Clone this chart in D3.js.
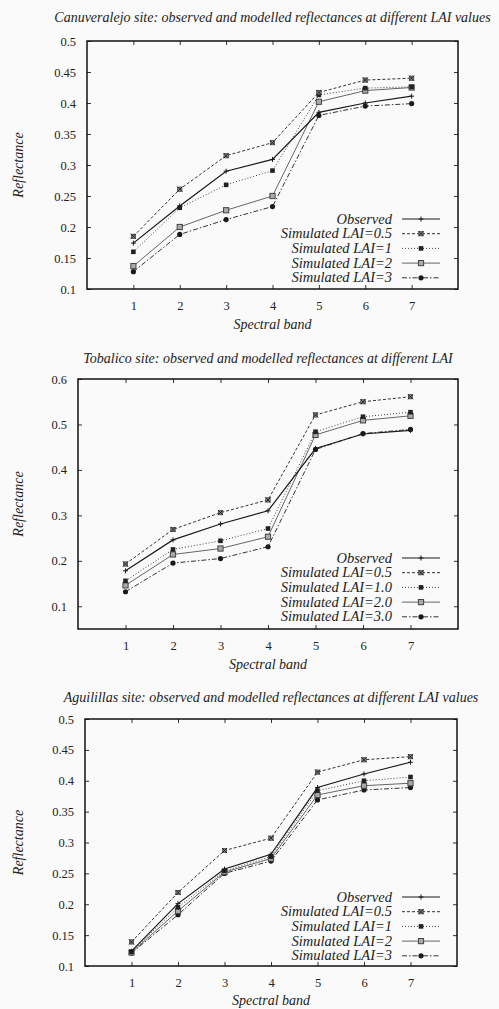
<!DOCTYPE html>
<html>
<head>
<meta charset="utf-8">
<script src="https://cdn.jsdelivr.net/npm/d3@7"></script>
<style>
  html, body { margin: 0; padding: 0; background: #fafafa; }
  svg { display: block; }
  text { font-family: "Liberation Serif", "DejaVu Serif", serif; fill: #222; }
  .it { font-style: italic; }
</style>
</head>
<body>
<svg id="chart" width="499" height="1009"></svg>
<script>
// ---------- DATA ----------
const bands = [1, 2, 3, 4, 5, 6, 7];

const titles = [
  "Canuveralejo site: observed and modelled reflectances at different LAI values",
  "Tobalico site: observed and modelled reflectances at different LAI",
  "Aguilillas site: observed and modelled reflectances at different LAI values"
];

const legendNamesA = ["Observed", "Simulated LAI=0.5", "Simulated LAI=1", "Simulated LAI=2", "Simulated LAI=3"];
const legendNamesB = ["Observed", "Simulated LAI=0.5", "Simulated LAI=1.0", "Simulated LAI=2.0", "Simulated LAI=3.0"];

const yTicksA = [0.1, 0.15, 0.2, 0.25, 0.3, 0.35, 0.4, 0.45, 0.5];
const yTickLabelsA = ["0.1", "0.15", "0.2", "0.25", "0.3", "0.35", "0.4", "0.45", "0.5"];
const yTicksB = [0.1, 0.2, 0.3, 0.4, 0.5, 0.6];
const yTickLabelsB = ["0.1", "0.2", "0.3", "0.4", "0.5", "0.6"];

// Canuveralejo
const canObserved = [0.174, 0.234, 0.290, 0.309, 0.385, 0.400, 0.411];
const canLAI05    = [0.185, 0.261, 0.315, 0.336, 0.417, 0.437, 0.440];
const canLAI1     = [0.160, 0.231, 0.268, 0.291, 0.413, 0.424, 0.426];
const canLAI2     = [0.137, 0.200, 0.227, 0.250, 0.402, 0.420, 0.425];
const canLAI3     = [0.128, 0.188, 0.212, 0.233, 0.380, 0.395, 0.399];

// Tobalico
const tobObserved = [0.178, 0.246, 0.281, 0.310, 0.447, 0.479, 0.487];
const tobLAI05    = [0.193, 0.269, 0.306, 0.334, 0.521, 0.550, 0.561];
const tobLAI1     = [0.156, 0.225, 0.244, 0.271, 0.484, 0.517, 0.527];
const tobLAI2     = [0.146, 0.214, 0.227, 0.253, 0.477, 0.509, 0.519];
const tobLAI3     = [0.132, 0.195, 0.205, 0.231, 0.445, 0.480, 0.489];

// Aguilillas
const aguObserved = [0.124, 0.201, 0.257, 0.281, 0.389, 0.411, 0.430];
const aguLAI05    = [0.139, 0.219, 0.287, 0.307, 0.414, 0.434, 0.439];
const aguLAI1     = [0.123, 0.195, 0.254, 0.277, 0.384, 0.400, 0.406];
const aguLAI2     = [0.122, 0.189, 0.252, 0.274, 0.377, 0.392, 0.396];
const aguLAI3     = [0.121, 0.183, 0.250, 0.270, 0.369, 0.385, 0.389];

// ---------- STYLES ----------
const styles = [
  { stroke: "#1a1a1a", width: 1.2, dash: null,        marker: "plus" },
  { stroke: "#333",    width: 1.0, dash: "3,2",       marker: "xbox" },
  { stroke: "#444",    width: 1.0, dash: "1,2",       marker: "fsquare" },
  { stroke: "#666",    width: 1.0, dash: null,        marker: "osquare" },
  { stroke: "#333",    width: 1.0, dash: "5,2,1.5,2", marker: "fcircle" }
];

const panels = [
  { title: titles[0], series: [canObserved, canLAI05, canLAI1, canLAI2, canLAI3], names: legendNamesA,
    ticks: yTicksA, tickLabels: yTickLabelsA, ydom: [0.1, 0.5],
    box: { l: 87, r: 458, t: 41, b: 289 }, titleY: 22, xlabY: 329, legendY: 219 },
  { title: titles[1], series: [tobObserved, tobLAI05, tobLAI1, tobLAI2, tobLAI3], names: legendNamesB,
    ticks: yTicksB, tickLabels: yTickLabelsB, ydom: [0.05, 0.6],
    box: { l: 78, r: 458, t: 379, b: 629 }, titleY: 363, xlabY: 669, legendY: 558 },
  { title: titles[2], series: [aguObserved, aguLAI05, aguLAI1, aguLAI2, aguLAI3], names: legendNamesA,
    ticks: yTicksA, tickLabels: yTickLabelsA, ydom: [0.1, 0.5],
    box: { l: 85, r: 457, t: 719, b: 966 }, titleY: 702, xlabY: 1005, legendY: 897 }
];

const svg = d3.select("#chart");

function drawMarker(g, kind, cx, cy, st) {
  if (kind === "plus") {
    g.append("path").attr("d", `M${cx-2.5},${cy}H${cx+2.5}M${cx},${cy-2.5}V${cy+2.5}`)
      .attr("stroke", st.stroke).attr("stroke-width", 1).attr("fill", "none");
  } else if (kind === "xbox") {
    g.append("rect").attr("x", cx-2.2).attr("y", cy-2.2).attr("width", 4.4).attr("height", 4.4)
      .attr("fill", "#888").attr("stroke", "#333").attr("stroke-width", 0.6);
    g.append("path").attr("d", `M${cx-2.5},${cy-2.5}L${cx+2.5},${cy+2.5}M${cx-2.5},${cy+2.5}L${cx+2.5},${cy-2.5}`)
      .attr("stroke", "#222").attr("stroke-width", 1).attr("fill", "none");
  } else if (kind === "fsquare") {
    g.append("rect").attr("x", cx-2.3).attr("y", cy-2.3).attr("width", 4.6).attr("height", 4.6)
      .attr("fill", "#222");
  } else if (kind === "osquare") {
    g.append("rect").attr("x", cx-2.6).attr("y", cy-2.6).attr("width", 5.2).attr("height", 5.2)
      .attr("fill", "#aaa").attr("stroke", "#444").attr("stroke-width", 1);
  } else if (kind === "fcircle") {
    g.append("circle").attr("cx", cx).attr("cy", cy).attr("r", 2.6).attr("fill", "#1a1a1a");
  }
}

panels.forEach(p => {
  const x = d3.scaleLinear().domain([0, 8]).range([p.box.l, p.box.r]);
  const y = d3.scaleLinear().domain(p.ydom).range([p.box.b, p.box.t]);
  const g = svg.append("g");

  // title
  g.append("text").attr("class", "it").attr("x", (p.box.l + p.box.r) / 2).attr("y", p.titleY)
    .attr("text-anchor", "middle").attr("font-size", 14).text(p.title);

  // axes (inward ticks like gnuplot)
  const tickFmt = (d) => p.tickLabels[p.ticks.indexOf(d)];
  const left = g.append("g").attr("transform", `translate(${p.box.l},0)`)
    .call(d3.axisLeft(y).tickValues(p.ticks).tickSize(-4).tickPadding(11).tickFormat(tickFmt));
  const right = g.append("g").attr("transform", `translate(${p.box.r},0)`)
    .call(d3.axisRight(y).tickValues(p.ticks).tickSize(-4).tickFormat(""));
  const bottom = g.append("g").attr("transform", `translate(0,${p.box.b})`)
    .call(d3.axisBottom(x).tickValues(bands).tickSize(-4).tickPadding(12).tickFormat(d3.format("d")));
  const top = g.append("g").attr("transform", `translate(0,${p.box.t})`)
    .call(d3.axisTop(x).tickValues(bands).tickSize(-4).tickFormat(""));
  [left, right, bottom, top].forEach(a => {
    a.select(".domain").remove();
    a.selectAll(".tick line").attr("stroke", "#333").attr("stroke-width", 1);
    a.selectAll(".tick text").attr("font-family", "Liberation Serif, serif").attr("font-size", 12.5).attr("fill", "#222");
  });

  // frame
  g.append("rect").attr("x", p.box.l).attr("y", p.box.t)
    .attr("width", p.box.r - p.box.l).attr("height", p.box.b - p.box.t)
    .attr("fill", "none").attr("stroke", "#111").attr("stroke-width", 1.5);

  // axis labels
  g.append("text").attr("class", "it").attr("x", (p.box.l + p.box.r) / 2).attr("y", p.xlabY)
    .attr("text-anchor", "middle").attr("font-size", 14).text("Spectral band");
  g.append("text").attr("class", "it")
    .attr("transform", `translate(23,${(p.box.t + p.box.b) / 2}) rotate(-90)`)
    .attr("text-anchor", "middle").attr("font-size", 14).text("Reflectance");

  // series lines (draw from last to first so observed is on top)
  const line = d3.line().x((d, i) => x(bands[i])).y(d => y(d));
  for (let s = p.series.length - 1; s >= 0; s--) {
    const st = styles[s];
    g.append("path").datum(p.series[s]).attr("d", line)
      .attr("fill", "none").attr("stroke", st.stroke).attr("stroke-width", st.width)
      .attr("stroke-dasharray", st.dash);
    p.series[s].forEach((v, i) => drawMarker(g, st.marker, x(bands[i]), y(v), st));
  }

  // legend
  p.names.forEach((name, i) => {
    const st = styles[i];
    const ry = p.legendY + i * 14.7;
    g.append("text").attr("class", "it").attr("x", 392).attr("y", ry + 4.5)
      .attr("text-anchor", "end").attr("font-size", 14.5).text(name);
    g.append("line").attr("x1", 402).attr("x2", 440).attr("y1", ry).attr("y2", ry)
      .attr("stroke", st.stroke).attr("stroke-width", st.width).attr("stroke-dasharray", st.dash);
    drawMarker(g, st.marker, 421, ry, st);
  });
});
</script>
</body>
</html>
